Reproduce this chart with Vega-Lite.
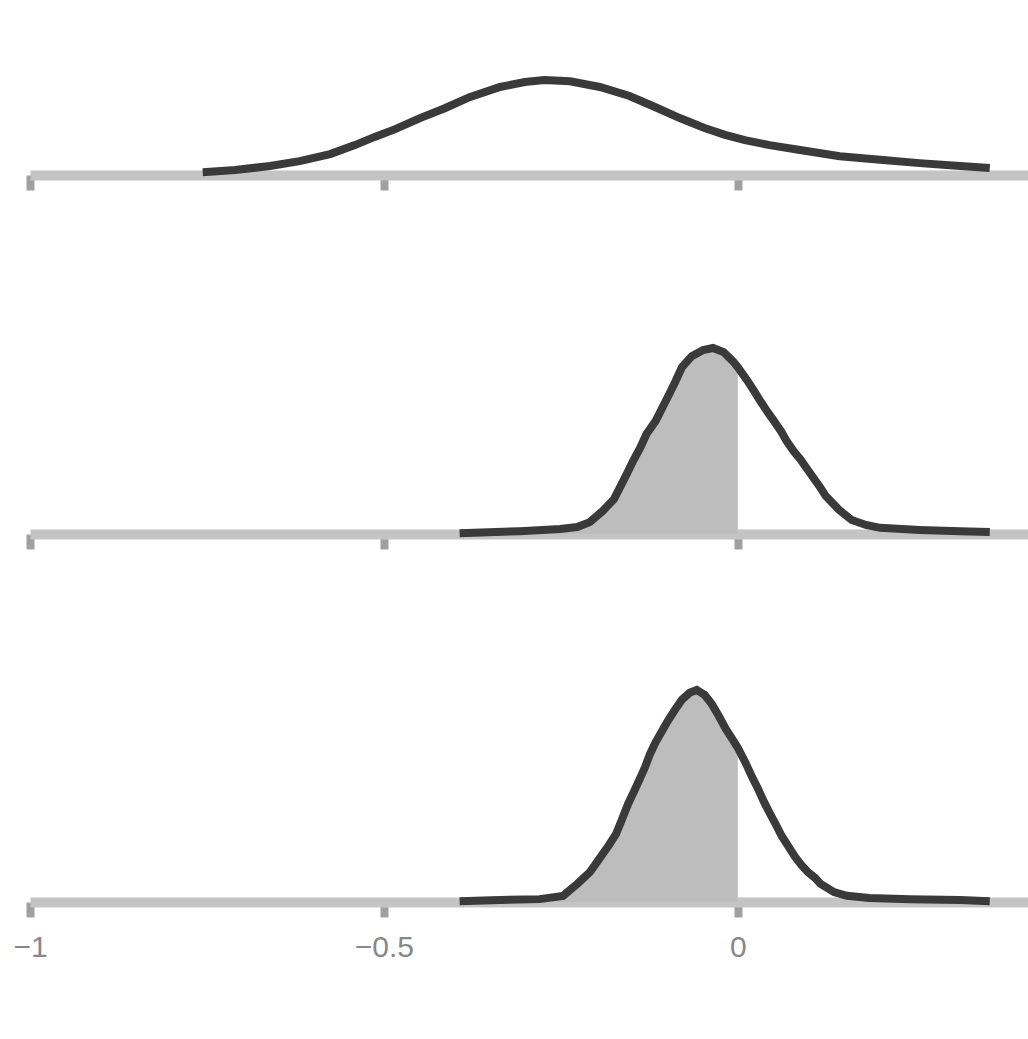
{
  "$schema": "https://vega.github.io/schema/vega-lite/v6.json",
  "background": "white",
  "padding": {"left": 12, "top": 10, "right": 0, "bottom": 0},
  "spacing": 20,
  "config": {
    "view": {"stroke": null},
    "axis": {
      "grid": false,
      "domainColor": "#c4c4c4",
      "domainWidth": 10,
      "tickColor": "#a0a0a0",
      "tickWidth": 8,
      "tickSize": 15,
      "labelFontSize": 30,
      "labelColor": "#888888",
      "labelPadding": 15,
      "labelFlush": false,
      "title": null
    }
  },
  "datasets": {
    "top": [
      {"x": -0.756, "density": 0.07}, {"x": -0.71, "density": 0.12}, {"x": -0.661, "density": 0.22},
      {"x": -0.619, "density": 0.34}, {"x": -0.576, "density": 0.51}, {"x": -0.541, "density": 0.73},
      {"x": -0.513, "density": 0.93}, {"x": -0.484, "density": 1.12}, {"x": -0.449, "density": 1.39},
      {"x": -0.414, "density": 1.63}, {"x": -0.379, "density": 1.9}, {"x": -0.336, "density": 2.15},
      {"x": -0.301, "density": 2.27}, {"x": -0.273, "density": 2.32}, {"x": -0.237, "density": 2.29},
      {"x": -0.195, "density": 2.15}, {"x": -0.153, "density": 1.93}, {"x": -0.117, "density": 1.66},
      {"x": -0.082, "density": 1.39}, {"x": -0.047, "density": 1.15}, {"x": -0.018, "density": 0.98},
      {"x": 0.01, "density": 0.85}, {"x": 0.045, "density": 0.73}, {"x": 0.088, "density": 0.61},
      {"x": 0.144, "density": 0.46}, {"x": 0.201, "density": 0.37}, {"x": 0.257, "density": 0.29},
      {"x": 0.314, "density": 0.22}, {"x": 0.356, "density": 0.17}
    ],
    "middle": [
      {"x": -0.393, "density": 0.02}, {"x": -0.308, "density": 0.07}, {"x": -0.251, "density": 0.12},
      {"x": -0.227, "density": 0.17}, {"x": -0.209, "density": 0.29}, {"x": -0.191, "density": 0.56},
      {"x": -0.175, "density": 0.85}, {"x": -0.167, "density": 1.12}, {"x": -0.157, "density": 1.46},
      {"x": -0.148, "density": 1.78}, {"x": -0.138, "density": 2.1}, {"x": -0.129, "density": 2.44},
      {"x": -0.116, "density": 2.76}, {"x": -0.107, "density": 3.07}, {"x": -0.097, "density": 3.41},
      {"x": -0.088, "density": 3.73}, {"x": -0.079, "density": 4.07}, {"x": -0.065, "density": 4.34},
      {"x": -0.049, "density": 4.49}, {"x": -0.035, "density": 4.54}, {"x": -0.02, "density": 4.44},
      {"x": -0.006, "density": 4.2}, {"x": 0.0, "density": 4.07}, {"x": 0.014, "density": 3.73},
      {"x": 0.023, "density": 3.49}, {"x": 0.032, "density": 3.24}, {"x": 0.042, "density": 2.98},
      {"x": 0.051, "density": 2.76}, {"x": 0.061, "density": 2.51}, {"x": 0.069, "density": 2.27},
      {"x": 0.079, "density": 2.02}, {"x": 0.088, "density": 1.83}, {"x": 0.097, "density": 1.61},
      {"x": 0.106, "density": 1.39}, {"x": 0.116, "density": 1.15}, {"x": 0.124, "density": 0.93},
      {"x": 0.143, "density": 0.59}, {"x": 0.161, "density": 0.34}, {"x": 0.181, "density": 0.22},
      {"x": 0.201, "density": 0.15}, {"x": 0.257, "density": 0.1}, {"x": 0.314, "density": 0.07},
      {"x": 0.356, "density": 0.05}
    ],
    "bottom": [
      {"x": -0.393, "density": 0.02}, {"x": -0.336, "density": 0.05}, {"x": -0.28, "density": 0.07},
      {"x": -0.247, "density": 0.15}, {"x": -0.227, "density": 0.44}, {"x": -0.209, "density": 0.73},
      {"x": -0.195, "density": 1.07}, {"x": -0.182, "density": 1.39}, {"x": -0.172, "density": 1.66},
      {"x": -0.164, "density": 2.0}, {"x": -0.155, "density": 2.39}, {"x": -0.147, "density": 2.68},
      {"x": -0.138, "density": 3.02}, {"x": -0.131, "density": 3.29}, {"x": -0.124, "density": 3.61},
      {"x": -0.116, "density": 3.9}, {"x": -0.107, "density": 4.17}, {"x": -0.099, "density": 4.41},
      {"x": -0.089, "density": 4.68}, {"x": -0.079, "density": 4.93}, {"x": -0.068, "density": 5.1},
      {"x": -0.058, "density": 5.17}, {"x": -0.047, "density": 5.05}, {"x": -0.037, "density": 4.83},
      {"x": -0.027, "density": 4.54}, {"x": -0.017, "density": 4.22}, {"x": -0.007, "density": 3.95},
      {"x": 0.0, "density": 3.76}, {"x": 0.011, "density": 3.39}, {"x": 0.02, "density": 3.05},
      {"x": 0.028, "density": 2.78}, {"x": 0.037, "density": 2.44}, {"x": 0.045, "density": 2.17},
      {"x": 0.054, "density": 1.88}, {"x": 0.062, "density": 1.61}, {"x": 0.071, "density": 1.37},
      {"x": 0.081, "density": 1.1}, {"x": 0.09, "density": 0.9}, {"x": 0.099, "density": 0.73},
      {"x": 0.109, "density": 0.59}, {"x": 0.117, "density": 0.44}, {"x": 0.136, "density": 0.24},
      {"x": 0.154, "density": 0.15}, {"x": 0.186, "density": 0.1}, {"x": 0.243, "density": 0.07},
      {"x": 0.314, "density": 0.05}, {"x": 0.356, "density": 0.02}
    ]
  },
  "resolve": {"scale": {"y": "independent"}},
  "vconcat": [
    {
      "width": 998,
      "height": 165,
      "data": {"name": "top"},
      "mark": {"type": "line", "color": "#3a3a3a", "strokeWidth": 8},
      "encoding": {
        "x": {"field": "x", "type": "quantitative",
              "scale": {"domain": [-1, 0.41], "nice": false, "zero": false},
              "axis": {"values": [-1, -0.5, 0], "labels": false}},
        "y": {"field": "density", "type": "quantitative",
              "scale": {"domain": [0, 4.03], "nice": false}, "axis": null}
      }
    },
    {
      "width": 998,
      "height": 320,
      "data": {"name": "middle"},
      "encoding": {
        "x": {"field": "x", "type": "quantitative",
              "scale": {"domain": [-1, 0.41], "nice": false, "zero": false},
              "axis": {"values": [-1, -0.5, 0], "labels": false}},
        "y": {"field": "density", "type": "quantitative",
              "scale": {"domain": [0, 7.81], "nice": false}, "axis": null}
      },
      "layer": [
        {"transform": [{"filter": "datum.x <= 0"}],
         "mark": {"type": "area", "color": "#bdbdbd"}},
        {"mark": {"type": "line", "color": "#3a3a3a", "strokeWidth": 8}}
      ]
    },
    {
      "width": 998,
      "height": 329,
      "data": {"name": "bottom"},
      "encoding": {
        "x": {"field": "x", "type": "quantitative",
              "scale": {"domain": [-1, 0.41], "nice": false, "zero": false},
              "axis": {"values": [-1, -0.5, 0], "format": "~g"}},
        "y": {"field": "density", "type": "quantitative",
              "scale": {"domain": [0, 8.02], "nice": false}, "axis": null}
      },
      "layer": [
        {"transform": [{"filter": "datum.x <= 0"}],
         "mark": {"type": "area", "color": "#bdbdbd"}},
        {"mark": {"type": "line", "color": "#3a3a3a", "strokeWidth": 8}}
      ]
    }
  ]
}
